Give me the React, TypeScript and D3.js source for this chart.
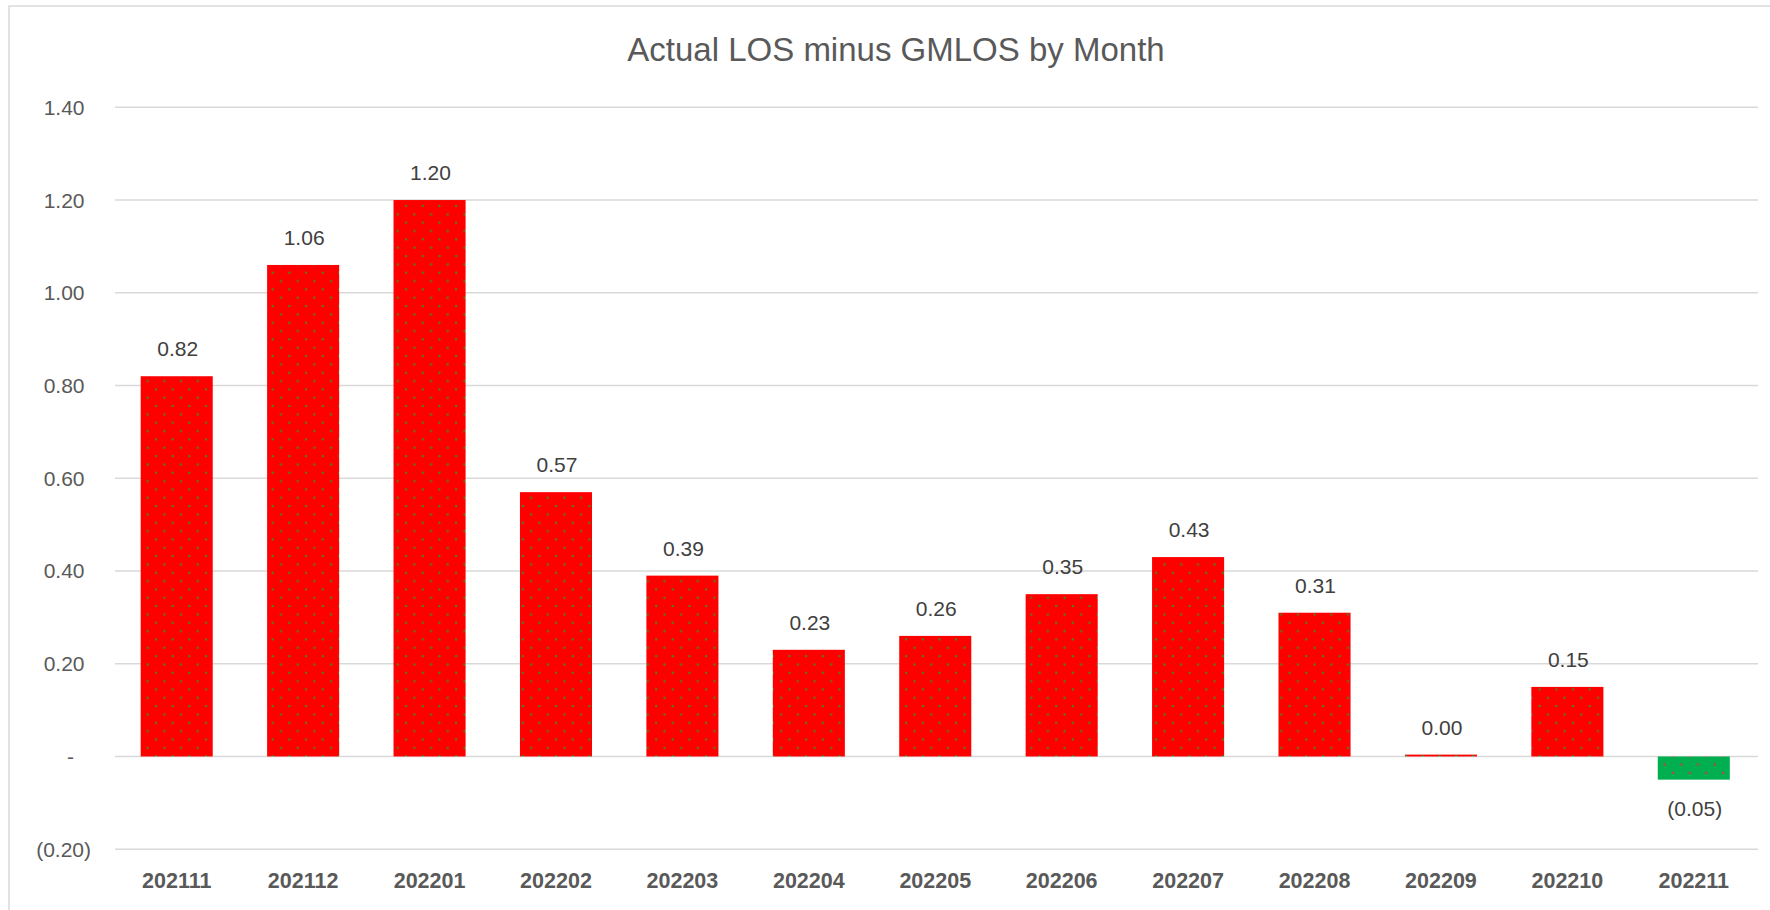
import React from "react";
import * as d3 from "d3";

const months = ["202111", "202112", "202201", "202202", "202203", "202204", "202205", "202206", "202207", "202208", "202209", "202210", "202211"];
const losDiff = [0.82, 1.06, 1.2, 0.57, 0.39, 0.23, 0.26, 0.35, 0.43, 0.31, 0.004, 0.15, -0.05];
const yTicks = [-0.2, 0, 0.2, 0.4, 0.6, 0.8, 1.0, 1.2, 1.4];

const W = 1770;
const H = 910;
const FONT = "'Liberation Sans', Arial, sans-serif";

// excel style accounting format
function fmt(v: number) {
  if (Math.abs(v) < 1e-9) return "-";
  const s = Math.abs(v).toFixed(2);
  return v < 0 ? `(${s})` : s;
}

export default function App() {
  const x = d3.scaleBand<string>()
    .domain(months)
    .range([113.5, 1757])
    .paddingInner(0.43)
    .paddingOuter(0.215);

  const y = d3.scaleLinear().domain([-0.2, 1.4]).range([849.2, 107.3]);

  const y0 = y(0);

  return (
    <svg width={W} height={H} style={{ position: "absolute", left: 0, top: 0, background: "#fff" }}>
      <defs>
        <pattern id="dotsRed" patternUnits="userSpaceOnUse" width={16.67} height={16.67}>
          <rect width={16.67} height={16.67} fill="#FF0000" />
          <rect x={5} y={5} width={2} height={2} fill="#3f8a2c" />
          <rect x={13.33} y={13.33} width={2} height={2} fill="#3f8a2c" />
        </pattern>
        <pattern id="dotsGreen" patternUnits="userSpaceOnUse" width={16.67} height={16.67}>
          <rect width={16.67} height={16.67} fill="#00B050" />
          <rect x={5} y={5} width={2} height={2} fill="#e0302a" />
          <rect x={13.33} y={13.33} width={2} height={2} fill="#e0302a" />
        </pattern>
      </defs>

      {/* chart area border */}
      <rect x={9} y={6} width={W + 20} height={H + 20} fill="#fff" stroke="#D9D9D9" strokeWidth={1.5} />

      <text x={896} y={61} textAnchor="middle" fontFamily={FONT} fontSize={33} fill="#595959">
        Actual LOS minus GMLOS by Month
      </text>

      {yTicks.map((t) => (
        <g key={t}>
          <line x1={115} x2={1758} y1={y(t)} y2={y(t)} stroke="#D9D9D9" strokeWidth={1.5} />
          <text
            x={t < 0 ? 91 : Math.abs(t) < 1e-9 ? 74 : 84.5}
            y={y(t) + 7.5}
            textAnchor="end"
            fontFamily={FONT}
            fontSize={21}
            fill="#595959"
          >
            {fmt(t)}
          </text>
        </g>
      ))}

      {months.map((m, i) => {
        const v = losDiff[i];
        const bx = x(m) as number;
        const top = v >= 0 ? y(v) : y0;
        const h = Math.abs(y(v) - y0);
        return (
          <g key={m}>
            <rect x={bx} y={top} width={x.bandwidth()} height={h} fill={v >= 0 ? "url(#dotsRed)" : "url(#dotsGreen)"} />
            <text
              x={bx + x.bandwidth() / 2 + 1}
              y={v >= 0 ? y(v) - 20 : y(v) + 36}
              textAnchor="middle"
              fontFamily={FONT}
              fontSize={21}
              fill="#404040"
            >
              {fmt(v)}
            </text>
            <text
              x={bx + x.bandwidth() / 2}
              y={888}
              textAnchor="middle"
              fontFamily={FONT}
              fontSize={21.5}
              fontWeight="bold"
              fill="#595959"
            >
              {m}
            </text>
          </g>
        );
      })}
    </svg>
  );
}
